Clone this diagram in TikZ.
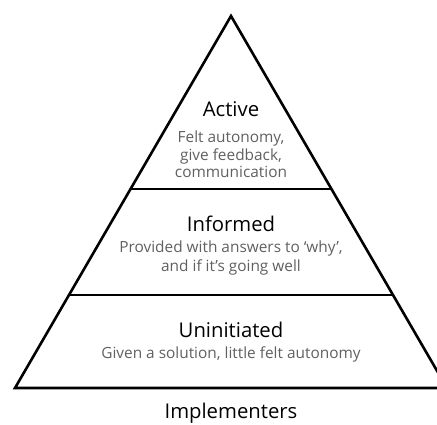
\documentclass[tikz,border=0pt]{standalone}
\usepackage{fontspec}
\setmainfont{Open Sans}
\definecolor{subgray}{HTML}{606060}
\tikzset{
  level/.style={font=\fontsize{20.3}{24}\selectfont, text=black, anchor=base, inner sep=0pt},
  note/.style={font=\fontsize{15.4}{17.5}\selectfont, text=subgray, align=center, anchor=base, inner sep=0pt}
}
\begin{document}
\begin{tikzpicture}[x=1pt,y=1pt]
   \useasboundingbox (0,0) rectangle (437,425);
   \clip (0,0) rectangle (437,425);

   % pyramid outline and the two dividers
   \draw[line width=2.6pt, line join=miter] (15,37) -- (231,409) -- (447,37) -- cycle;
   \draw[line width=2.6pt] (130.5,236) -- (331.5,236);
   \draw[line width=2.6pt] (69,130) -- (393,130);

   % top level (notes sit on the baseline of their last line)
   \node[level] (active) at (231,308.3) {Active};
   \node[note] (activeNote) at (231,247.3) {Felt autonomy,\\give feedback,\\communication};

   % middle level
   \node[level] (informed) at (231,193.3) {Informed};
   \node[note, font=\fontsize{15.4}{19}\selectfont] (informedNote) at (231,153.3)
      {Provided with answers to ‘why’,\\and if it’s going well};

   % bottom level
   \node[level] (uninit) at (231,87) {Uninitiated};
   \node[note] (uninitNote) at (231,66) {Given a solution, little felt autonomy};

   \node[level] (impl) at (231,6) {Implementers};
 \end{tikzpicture}
\end{document}
